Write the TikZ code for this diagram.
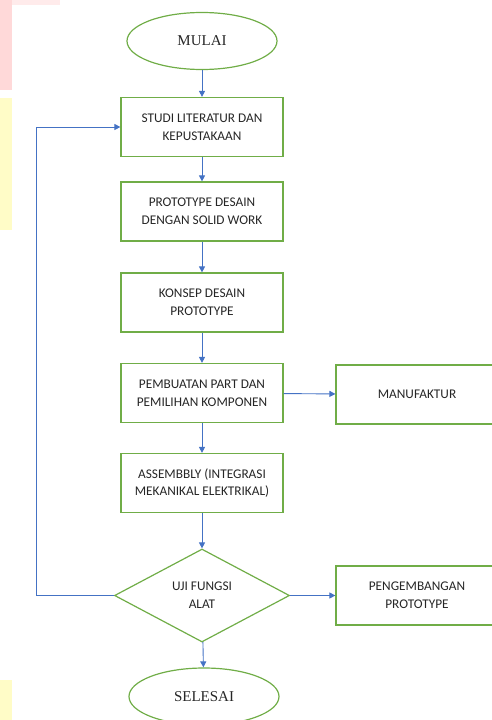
\documentclass[tikz,border=0pt]{standalone}
\usepackage{fontspec}
\setmainfont{Carlito}
\newfontfamily\termfont{Liberation Serif}
\usetikzlibrary{shapes.geometric,arrows.meta}
\definecolor{boxgreen}{RGB}{112,173,71}
\definecolor{lineblue}{RGB}{68,114,196}
\begin{document}
\begin{tikzpicture}[x=1pt,y=-1pt,
    main/.style = {draw=boxgreen, line width=1.2pt, minimum width=162pt, minimum height=59pt, align=center, text=black!85, font=\fontsize{13.3}{17.8}\selectfont},
    term/.style = {draw=boxgreen, ellipse, line width=1.2pt, minimum width=150pt, minimum height=57pt, text=black!85, font=\termfont\fontsize{15}{18}\selectfont},
    check/.style = {draw=boxgreen, diamond, line width=1.2pt, inner sep=0pt, minimum width=175pt, minimum height=93pt, aspect=1.88, align=center, text=black!85, font=\fontsize{13.3}{17.8}\selectfont},
    arrow/.style = {draw=lineblue, line width=0.9pt, -{Triangle[length=6pt,width=6pt]}}]
          \useasboundingbox (0,0) rectangle (492,720);
          \clip (0,0) rectangle (492,720);
          % background stripes on the left edge
          \fill[red!15] (0,0) rectangle (12,90);
          \fill[red!8] (12,0) rectangle (60,5);
          \fill[yellow!22] (0,98) rectangle (12,230);
          \fill[yellow!22] (0,680) rectangle (12,720);
          \node[term] (0) at (202,41) {MULAI};
          \node[main] (1) at (202,127) {STUDI LITERATUR DAN\\KEPUSTAKAAN};
          \node[main] (2) at (202,211.5) {PROTOTYPE DESAIN\\DENGAN SOLID WORK};
          \node[main] (3) at (202,302.5) {KONSEP DESAIN\\PROTOTYPE};
          \node[main] (4) at (202,393) {PEMBUATAN PART DAN\\PEMILIHAN KOMPONEN};
          \node[main] (5) at (417,394.5) {MANUFAKTUR};
          \node[main] (6) at (202,483) {ASSEMBBLY (INTEGRASI\\MEKANIKAL ELEKTRIKAL)};
          \node[check] (7) at (202,595.5) {UJI FUNGSI\\ALAT};
          \node[main] (8) at (417,595.5) {PENGEMBANGAN\\PROTOTYPE};
          \node[term] (9) at (204,696.5) {SELESAI};
          \coordinate (back) at (36,595.5);
          \draw[arrow] (0) -- (1);
          \draw[arrow] (1) -- (2);
          \draw[arrow] (2) -- (3);
          \draw[arrow] (3) -- (4);
          \draw[arrow] (4) -- (5);
          \draw[arrow] (4) -- (6);
          \draw[arrow] (6) -- (7);
          \draw[arrow] (7) -- (8);
          \draw[arrow] (7) -- (9);
          \draw[arrow] (7.west) -- (back) |- (1.west);
        \end{tikzpicture}
\end{document}
